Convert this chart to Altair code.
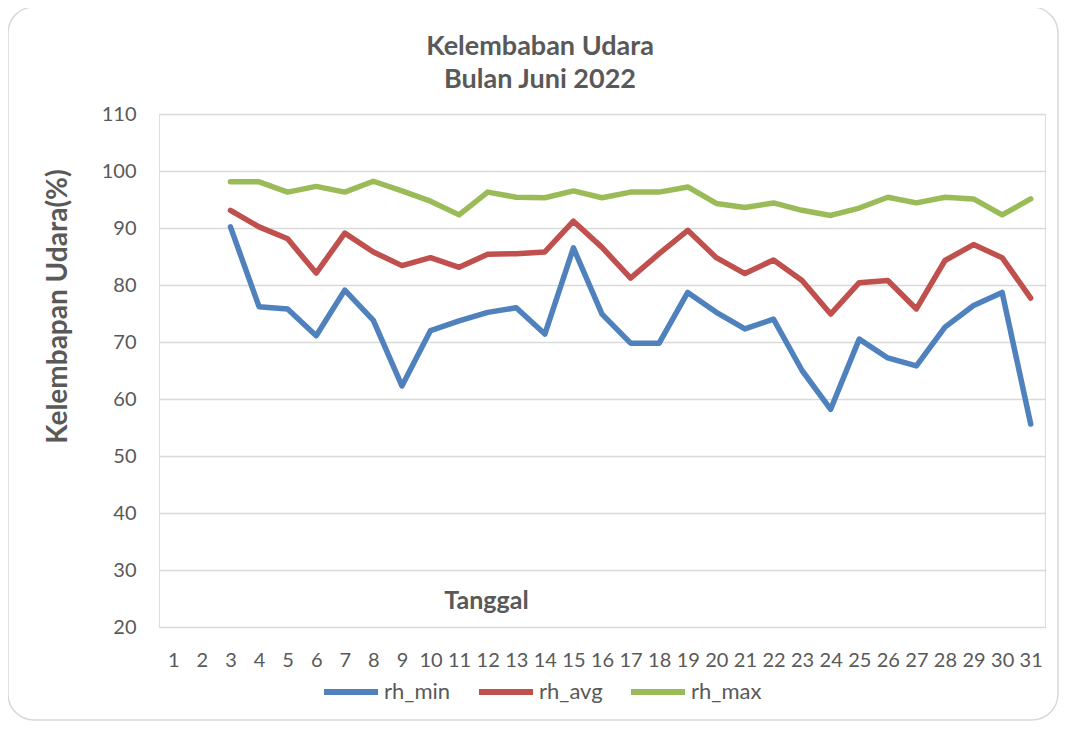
import altair as alt
import pandas as pd

days = list(range(1, 32))
rh_min = [None, None, 90.2, 76.2, 75.8, 71.1, 79.1, 73.8, 62.3, 72.0, 73.7, 75.2, 76.0, 71.4, 86.5, 74.9,
          69.8, 69.8, 78.7, 75.2, 72.3, 74.0, 65.0, 58.2, 70.5, 67.2, 65.8, 72.6, 76.4, 78.7, 55.6]
rh_avg = [None, None, 93.1, 90.2, 88.1, 82.1, 89.1, 85.8, 83.4, 84.8, 83.1, 85.4, 85.5, 85.8, 91.2, 86.6,
          81.2, 85.5, 89.6, 84.8, 82.0, 84.4, 80.8, 74.9, 80.4, 80.8, 75.8, 84.3, 87.1, 84.8, 77.7]
rh_max = [None, None, 98.1, 98.1, 96.3, 97.3, 96.3, 98.2, 96.5, 94.7, 92.3, 96.3, 95.4, 95.3, 96.5, 95.3,
          96.3, 96.3, 97.2, 94.3, 93.6, 94.4, 93.1, 92.2, 93.5, 95.4, 94.4, 95.4, 95.1, 92.3, 95.1]
series = ["rh_min", "rh_avg", "rh_max"]
colors = ["#4f81bd", "#c0504d", "#9bbb59"]
y_ticks = [20, 30, 40, 50, 60, 70, 80, 90, 100, 110]
title_lines = ["Kelembaban Udara", "Bulan Juni 2022"]

df = pd.DataFrame({"Tanggal": days, "rh_min": rh_min, "rh_avg": rh_avg, "rh_max": rh_max})
long = df.melt(id_vars="Tanggal", var_name="series", value_name="value")

TXT = "#595959"
FONT = "Lato"
one = alt.Data(values=[{"a": 1}])

border = alt.Chart(one).mark_rect(
    fillOpacity=0, stroke="#d9d9d9", strokeWidth=1.5, cornerRadius=26
).encode(
    x=alt.value(-151), x2=alt.value(899), y=alt.value(-107), y2=alt.value(606)
)

title1 = alt.Chart(one).mark_text(
    text=title_lines[0], font=FONT, fontSize=27, fontWeight="bold", color=TXT,
    align="center", baseline="middle"
).encode(x=alt.value(381), y=alt.value(-67))
title2 = alt.Chart(one).mark_text(
    text=title_lines[1], font=FONT, fontSize=27, fontWeight="bold", color=TXT,
    align="center", baseline="middle"
).encode(x=alt.value(381), y=alt.value(-34))

lines = alt.Chart(long).mark_line(strokeWidth=5.5, strokeCap="round", strokeJoin="round").encode(
    x=alt.X("Tanggal:O", scale=alt.Scale(type="point", padding=0.5, domain=days),
            axis=alt.Axis(title="Tanggal", labelAngle=0, labelPadding=23, tickSize=0, domain=False,
                          grid=False, labelFontSize=20, labelColor=TXT, labelFont=FONT,
                          titleFont=FONT, titleFontSize=25, titleFontWeight="bold", titleColor=TXT,
                          titleX=327, titleY=-27, titleBaseline="middle", titleAlign="center")),
    y=alt.Y("value:Q", scale=alt.Scale(domain=[20, 110]),
            axis=alt.Axis(title="Kelembapan Udara(%)", values=y_ticks, tickSize=0, domain=False,
                          labelPadding=23, labelFontSize=20, labelColor=TXT, labelFont=FONT,
                          gridColor="#d9d9d9", gridWidth=1.3,
                          titleFont=FONT, titleFontSize=28, titleFontWeight="bold", titleColor=TXT,
                          titleX=-101, titleY=192, titleAngle=270, titleAlign="center",
                          titleBaseline="middle")),
    color=alt.Color("series:N", scale=alt.Scale(domain=series, range=colors),
                    legend=alt.Legend(title=None, orient="none", direction="horizontal",
                                      legendX=162, legendY=548, symbolType="stroke",
                                      symbolSize=2916, symbolStrokeWidth=6, labelFontSize=22,
                                      labelFont=FONT, labelColor=TXT, labelOffset=3,
                                      columnPadding=16, padding=0)),
    order=alt.Order("Tanggal:O"),
)

chart = alt.layer(border, lines, title1, title2).properties(
    width=886, height=513,
    autosize=alt.AutoSizeParams(type="none"),
    padding={"left": 151, "top": 106, "right": 14, "bottom": 95},
).configure_view(stroke=None).configure(background="white")

chart.save("out.html", embed_options={"renderer": "svg", "actions": False})
